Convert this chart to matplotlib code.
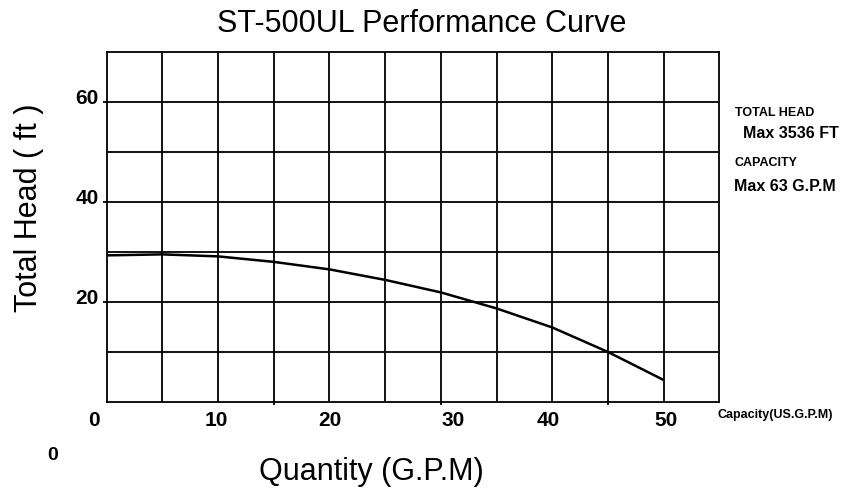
#!/usr/bin/env python3
"""ST-500UL pump performance curve (head vs flow)."""
import matplotlib
matplotlib.use('Agg')
import matplotlib.pyplot as plt
from matplotlib.transforms import ScaledTranslation, blended_transform_factory

plt.rcParams['font.family'] = ['Liberation Sans', 'DejaVu Sans']

# data
flow_gpm = [0, 5, 10, 15, 20, 25, 30, 35, 40, 45, 50]
head_ft = [29.3, 29.5, 29.1, 28.0, 26.5, 24.4, 21.9, 18.7, 14.9, 10.0, 4.4]

x_tick_vals = [0, 10, 20, 30, 40, 50]
x_tick_shift_px = [-13, -1.5, 0, 12, -3.5, 2]   # labels sit a bit off the grid in the original
x_mark_ticks = [15, 30, 45]
y_tick_vals = [20, 40, 60]

W, H = 845, 492
fig = plt.figure(figsize=(W / 100, H / 100), dpi=100)
fig.patch.set_facecolor('white')


def fx(px):
    return px / W


def fy(py):
    return 1 - py / H


ax = fig.add_axes([fx(106.7), fy(402), fx(719.3) - fx(106.7), fy(51.7) - fy(402)])
ax.set_xlim(0, 55)
ax.set_ylim(0, 70)

# grid
lw_grid = 1.3
for gx in range(5, 55, 5):
    ax.axvline(gx, color='black', lw=lw_grid, zorder=1)
for gy in range(10, 70, 10):
    ax.axhline(gy, color='black', lw=lw_grid, zorder=1)
for sp in ax.spines.values():
    sp.set_linewidth(lw_grid)
    sp.set_color('black')

ax.plot(flow_gpm, head_ft, color='black', lw=1.8, zorder=3,
        solid_capstyle='butt', solid_joinstyle='round')

# y ticks
ax.set_yticks(y_tick_vals)
ax.set_yticklabels([str(v) for v in y_tick_vals])
ax.tick_params(axis='y', length=2.9, width=lw_grid, pad=2.7,
               labelsize=15, direction='out')
for lbl in ax.get_yticklabels():
    lbl.set_fontweight('bold')
    lbl.set_transform(lbl.get_transform() + ScaledTranslation(0, 0.05, fig.dpi_scale_trans))

# x: small marks at 15/30/45, labels drawn separately
ax.set_xticks(x_mark_ticks)
ax.set_xticklabels([])
ax.tick_params(axis='x', length=2.5, width=lw_grid, direction='out')

trans_x = blended_transform_factory(ax.transData, ax.transAxes)
for v, dx in zip(x_tick_vals, x_tick_shift_px):
    ax.text(v, -0.0514, str(v), transform=trans_x + ScaledTranslation(dx / 100, 0, fig.dpi_scale_trans),
            ha='center', va='center', fontsize=15, fontweight='bold', clip_on=False)

# titles / axis labels
fig.text(fx(422), fy(31.7), 'ST-500UL Performance Curve', ha='center', va='baseline', fontsize=22)
fig.text(fx(29), fy(208), 'Total Head ( ft )', ha='center', va='center', rotation=90, fontsize=22)
fig.text(fx(371.7), fy(480), 'Quantity (G.P.M)', ha='center', va='baseline', fontsize=22)

# side notes
fig.text(fx(735), fy(113), 'TOTAL HEAD', ha='left', va='center', fontsize=9, fontweight='bold')
fig.text(fx(742.7), fy(133), 'Max 3536 FT', ha='left', va='center', fontsize=11.5, fontweight='bold')
fig.text(fx(735), fy(163.3), 'CAPACITY', ha='left', va='center', fontsize=9, fontweight='bold')
fig.text(fx(734.3), fy(186.7), 'Max 63 G.P.M', ha='left', va='center', fontsize=11.5, fontweight='bold')
fig.text(fx(718), fy(415), 'Capacity(US.G.P.M)', ha='left', va='center', fontsize=9, fontweight='bold')
fig.text(fx(53), fy(455), '0', ha='center', va='center', fontsize=14, fontweight='bold')

fig.savefig('out.png', dpi=100, facecolor='white')
